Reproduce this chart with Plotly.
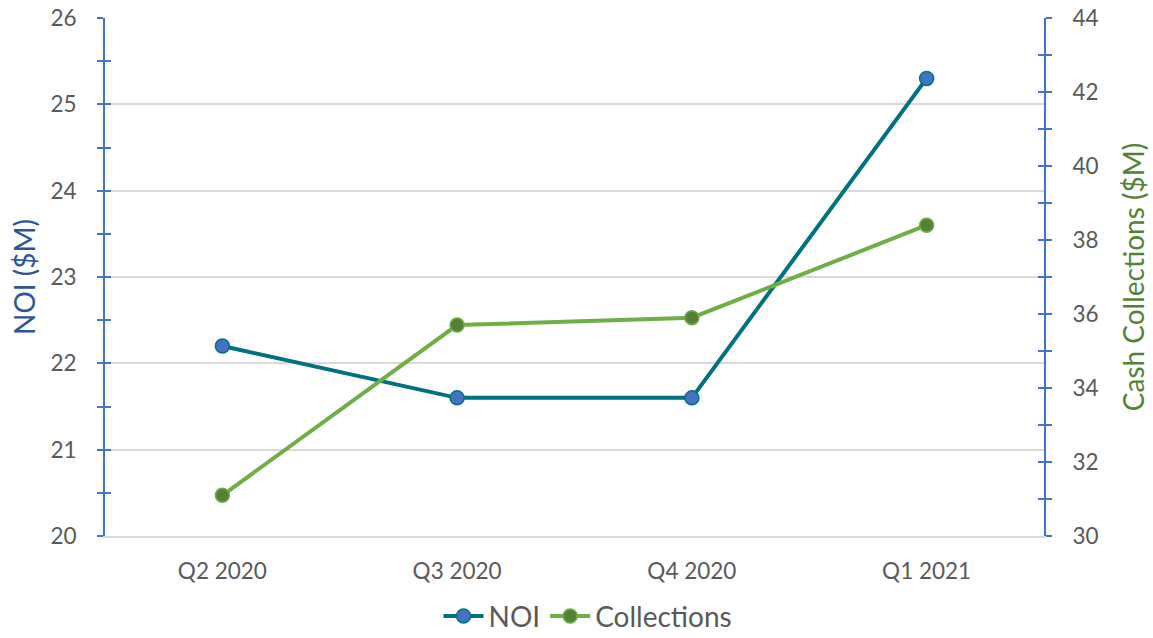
import plotly.graph_objects as go

quarters = ["Q2 2020", "Q3 2020", "Q4 2020", "Q1 2021"]
noi = [22.2, 21.6, 21.6, 25.3]
collections = [31.1, 35.7, 35.9, 38.4]

FONT = "Lato, 'Open Sans', sans-serif"
AXIS_BLUE = "#4472C4"
TICK_GRAY = "#595959"

fig = go.Figure()
fig.add_trace(go.Scatter(
    x=quarters, y=noi, name="NOI", mode="lines+markers",
    line=dict(color="#00727F", width=4),
    marker=dict(size=14, color="#4472C4", line=dict(color="#00727F", width=1.5)),
    yaxis="y"))
fig.add_trace(go.Scatter(
    x=quarters, y=collections, name="Collections", mode="lines+markers",
    line=dict(color="#70AD47", width=4),
    marker=dict(size=14, color="#548235", line=dict(color="#70AD47", width=1.5)),
    yaxis="y2"))

tick_common = dict(ticklen=6, tickcolor=AXIS_BLUE, tickwidth=2)

fig.update_layout(
    width=1153, height=638,
    margin=dict(l=105, r=109, t=18, b=102, autoexpand=False),
    paper_bgcolor="white", plot_bgcolor="white",
    font=dict(family=FONT, size=22, color=TICK_GRAY),
    showlegend=True,
    legend=dict(orientation="h", x=0.51, xanchor="center", xref="container",
                y=0.034, yanchor="middle", yref="container",
                font=dict(size=28, color=TICK_GRAY), itemwidth=40, traceorder="normal"),
    xaxis=dict(type="category", range=[-0.5, 3.5], showgrid=False, automargin=False,
               showline=True, linecolor="#D9D9D9", linewidth=1.5,
               ticks="", tickfont=dict(size=22.5, color=TICK_GRAY), zeroline=False,
               ticklabelstandoff=14),
    yaxis=dict(range=[20, 26], dtick=1, showgrid=True, gridcolor="#D9D9D9", gridwidth=1.5,
               automargin=False, showline=True, linecolor=AXIS_BLUE, linewidth=2,
               ticks="outside", **tick_common,
               minor=dict(dtick=0.5, ticks="outside", showgrid=False, **tick_common),
               tickfont=dict(size=22.5, color=TICK_GRAY), zeroline=False,
               ticklabelstandoff=16,
               title=dict(text="NOI ($M)", font=dict(size=28, color="#2F5597"), standoff=7)),
    yaxis2=dict(range=[30, 44], dtick=2, overlaying="y", side="right", showgrid=False,
                automargin=False, showline=True, linecolor=AXIS_BLUE, linewidth=2,
                ticks="outside", **tick_common,
                minor=dict(dtick=1, ticks="outside", showgrid=False, **tick_common),
                tickfont=dict(size=22.5, color=TICK_GRAY), zeroline=False,
                ticklabelstandoff=16,
                title=dict(text="Cash Collections ($M)", font=dict(size=28, color="#548235"), standoff=27)),
    yaxis3=dict(range=[20, 26], dtick=1, overlaying="y", side="left", showgrid=False,
                automargin=False, showline=False, ticks="inside", **tick_common,
                minor=dict(dtick=0.5, ticks="inside", showgrid=False, **tick_common),
                showticklabels=False, zeroline=False),
    yaxis4=dict(range=[30, 44], dtick=2, overlaying="y", side="right", showgrid=False,
                automargin=False, showline=False, ticks="inside", **tick_common,
                minor=dict(dtick=1, ticks="inside", showgrid=False, **tick_common),
                showticklabels=False, zeroline=False),
)
# invisible traces to activate the cross-tick helper axes
fig.add_trace(go.Scatter(x=[quarters[0]], y=[None], yaxis="y3", showlegend=False, hoverinfo="skip"))
fig.add_trace(go.Scatter(x=[quarters[0]], y=[None], yaxis="y4", showlegend=False, hoverinfo="skip"))

fig.write_html("out.html")
